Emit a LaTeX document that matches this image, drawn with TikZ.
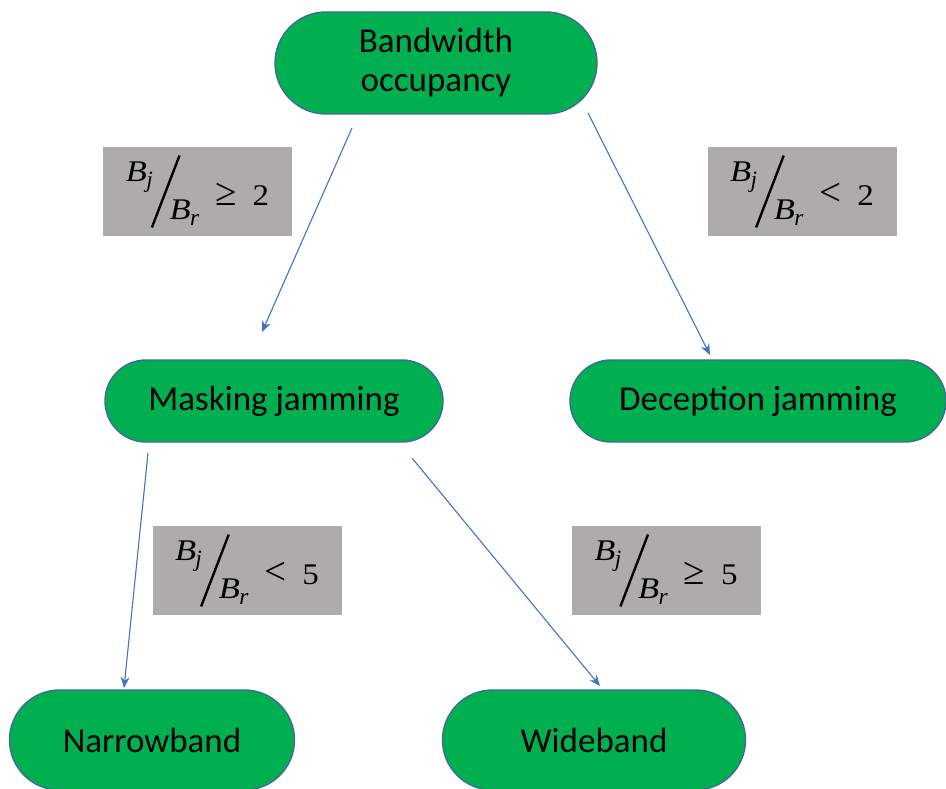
\documentclass[tikz,border=0pt]{standalone}
\usepackage{fontspec}
\setmainfont{Carlito}
\newfontfamily\mathlike{Liberation Serif}
\usepackage{graphicx}
\usetikzlibrary{shapes.misc,arrows.meta}
\definecolor{nodegreen}{HTML}{00B050}
\definecolor{nodeborder}{HTML}{3F6A99}
\definecolor{labelgray}{HTML}{AEABAB}
\definecolor{arrowblue}{HTML}{4472C4}
\newcommand{\bsym}[1]{\scalebox{1.15}[1]{\textit{B}}\kern-0.02em\raisebox{-0.2em}{\scalebox{0.78}{\textit{#1}}}}
\newcommand{\bratio}[2]{{\mathlike
\raisebox{24pt}{\bsym{j}}\kern-2pt%
\raisebox{-22pt}{\rotatebox{-21}{\rule{2.4pt}{77pt}}}\kern-11pt%
\raisebox{-14pt}{\bsym{r}}\kern16pt%
\scalebox{1.3}{#1}\kern16pt\scalebox{1.1}[1]{#2}}}
\tikzset{
  pill/.style={rounded rectangle, draw=nodeborder, line width=1.4pt, fill=nodegreen,
    text=black, font=\fontsize{35}{39}\selectfont, align=center, inner sep=0pt},
  cond/.style={rectangle, fill=labelgray, inner sep=0pt, minimum width=189pt,
    minimum height=89pt, font=\fontsize{30}{34}\selectfont},
  conn/.style={draw=arrowblue, line width=1.1pt, -{Stealth[length=11pt,width=9pt]}}
}
\begin{document}
\begin{tikzpicture}[x=1pt,y=-1pt]
\useasboundingbox (0,0) rectangle (946,789);
\node[pill, minimum width=322pt, minimum height=102pt] (bw) at (436,63) {Bandwidth\\occupancy};
\node[pill, minimum width=338pt, minimum height=82pt] (mask) at (274,401) {Masking jamming};
\node[pill, minimum width=376pt, minimum height=82pt] (dec) at (758,401) {Deception jamming};
\node[pill, minimum width=285pt, minimum height=100pt] (nar) at (152,740) {Narrowband};
\node[pill, minimum width=303pt, minimum height=100pt] (wide) at (594,740) {Wideband};
\node[cond] (c1) at (197.5,191.5) {\bratio{≥}{2}};
\node[cond] (c2) at (802,191.5) {\bratio{<}{2}};
\node[cond] (c3) at (247,570.5) {\bratio{<}{5}};
\node[cond] (c4) at (666,570.5) {\bratio{≥}{5}};
\coordinate (a1s) at (352,128);
\coordinate (a1e) at (262,332);
\coordinate (a2s) at (588,113);
\coordinate (a2e) at (710,355);
\coordinate (a3s) at (148,453);
\coordinate (a3e) at (124,688);
\coordinate (a4s) at (412,458);
\coordinate (a4e) at (600,686);
\draw[conn] (a1s) -- (a1e);
\draw[conn] (a2s) -- (a2e);
\draw[conn] (a3s) -- (a3e);
\draw[conn] (a4s) -- (a4e);
\end{tikzpicture}
\end{document}
